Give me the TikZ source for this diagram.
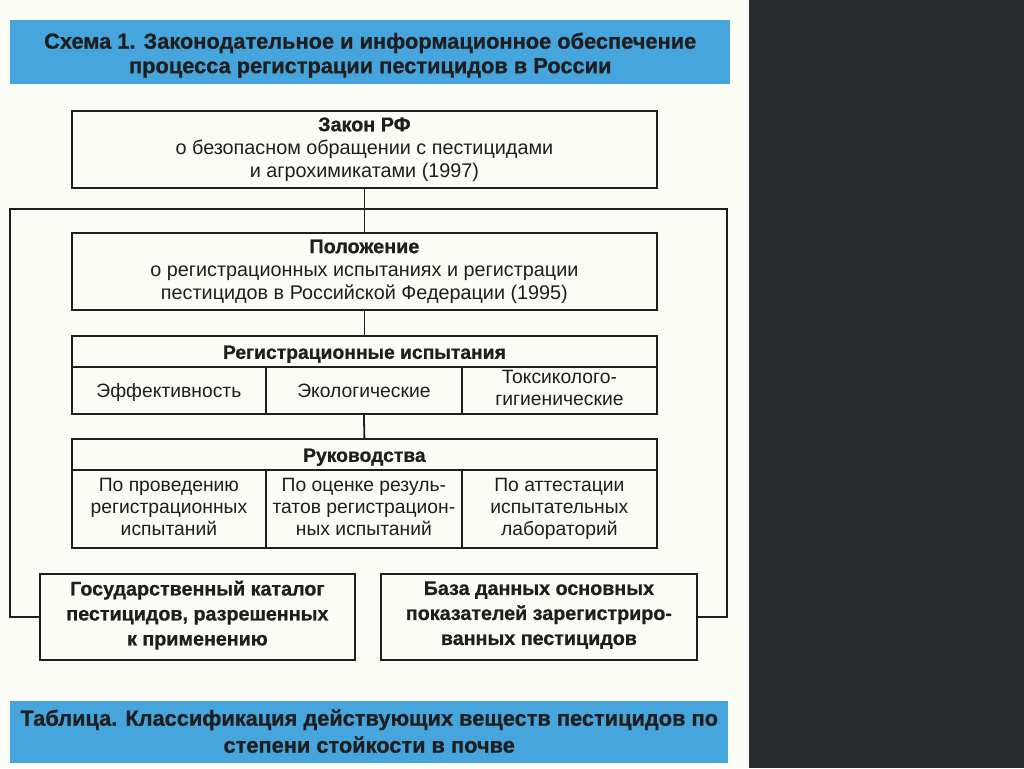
\documentclass[tikz,border=0pt]{standalone}
\usepackage{fontspec}
\setmainfont{Liberation Sans}[BoldFeatures={FakeBold=0.8}]
\definecolor{pagebg}{HTML}{FBFCF5}
\definecolor{darkbg}{HTML}{282B2B}
\definecolor{banner}{HTML}{45A5DC}
\definecolor{ink}{HTML}{1E1E1E}
\newcommand\cellTop{\rule{0pt}{17.9pt}}
\newcommand\cellBot{\rule[-4.1pt]{0pt}{0pt}}
\newcommand\hdrStrut{\rule[-3.1pt]{0pt}{22pt}}
\tikzset{
  box/.style={draw=ink, line width=1.8pt, fill=pagebg, anchor=north west, inner sep=2pt,
    align=center, text=ink, font=\fontsize{19.8}{23}\selectfont},
  cell/.style={box, font=\fontsize{19.3}{22}\selectfont,
    execute at begin node=\cellTop, execute at end node=\cellBot},
  hdr/.style={box, font=\bfseries\fontsize{19.3}{22}\selectfont,
    execute at begin node=\hdrStrut},
  bold box/.style={box, font=\bfseries\fontsize{19.7}{25}\selectfont,
    execute at begin node=\strut, execute at end node=\strut},
  bannerbox/.style={fill=banner, draw=none, anchor=north west},
  bannertext/.style={align=center, text=ink, inner sep=0pt,
    font=\bfseries\fontsize{21.8}{24.5}\selectfont},
  conn/.style={draw=ink, line width=1.8pt},
}
\begin{document}
\begin{tikzpicture}[x=1pt, y=-1pt]
\useasboundingbox (0,0) rectangle (1024,768);
\fill[pagebg] (0,0) rectangle (749,768);
\fill[darkbg] (749,0) rectangle (1024,768);

\node[bannerbox, minimum width=720pt, minimum height=64pt] (title) at (10,20) {};
\node[bannertext] (titletext) at ([yshift=-3pt]title.center)
  {Схема 1. Законодательное и информационное обеспечение\\процесса регистрации пестицидов в России};

\node[box, minimum width=585pt, minimum height=77pt] (law) at (71,110)
  {\textbf{Закон РФ}\\о безопасном обращении с пестицидами\\и агрохимикатами (1997)};

\node[box, minimum width=585pt, minimum height=77pt] (pol) at (71,232)
  {\textbf{Положение}\\о регистрационных испытаниях и регистрации\\пестицидов в Российской Федерации (1995)};

% Registration tests table
\node[hdr, minimum width=585pt, minimum height=31pt] (rt) at (71,335) {Регистрационные испытания};
\node[cell, minimum width=194pt, minimum height=47pt] (rt1) at (71,366) {Эффективность};
\node[cell, minimum width=196pt, minimum height=47pt] (rt2) at (265,366) {Экологические};
\node[cell, minimum width=195pt, minimum height=47pt] (rt3) at (461,366) {Токсиколого-\\гигиенические};

% Guidelines table
\node[hdr, minimum width=585pt, minimum height=31pt] (gd) at (71,438) {Руководства};
\node[cell, minimum width=194pt, minimum height=78pt] (gd1) at (71,469) {По проведению\\регистрационных\\испытаний};
\node[cell, minimum width=196pt, minimum height=78pt] (gd2) at (265,469) {По оценке резуль-\\татов регистрацион-\\ных испытаний};
\node[cell, minimum width=195pt, minimum height=78pt] (gd3) at (461,469) {По аттестации\\испытательных\\лабораторий};

% Bottom boxes
\node[bold box, minimum width=315pt, minimum height=86pt] (cat) at (39,573)
  {Государственный каталог\\пестицидов, разрешенных\\к применению};
\node[bold box, minimum width=316pt, minimum height=86pt] (db) at (380,573)
  {База данных основных\\показателей зарегистриро-\\ванных пестицидов};

\node[bannerbox, minimum width=718pt, minimum height=62pt] (tab) at (10,701) {};
\node[bannertext, font=\bfseries\fontsize{21.8}{27}\selectfont] (tabtext) at ([yshift=1pt]tab.center)
  {Таблица. Классификация действующих веществ пестицидов по\\степени стойкости в почве};

% connectors
\coordinate (j) at (367,209);
\coordinate (lx) at (10,209);
\coordinate (rx) at (727,209);
\draw[conn] (law.south) -- (pol.north);
\draw[conn] (cat.west) -| (lx) -- (rx) |- (db.east);
\draw[conn] (pol.south) -- (rt.north);
\draw[conn] (rt2.south) -- (gd.north);
\end{tikzpicture}
\end{document}
